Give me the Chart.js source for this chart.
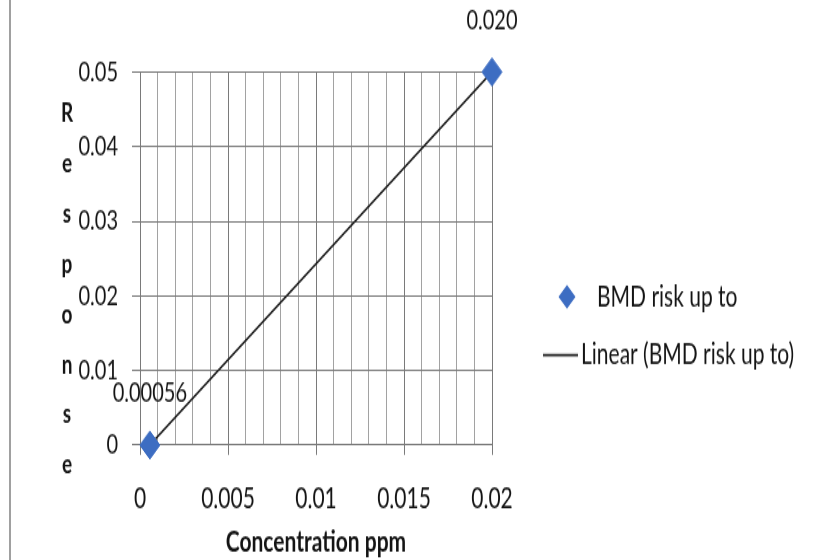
<!DOCTYPE html>
<html>
<head>
<meta charset="utf-8">
<title>Concentration vs Response</title>
<script src="https://cdn.jsdelivr.net/npm/chart.js@4/dist/chart.umd.min.js"></script>
<style>
  html, body { margin: 0; padding: 0; background: #fff; overflow: hidden; }
</style>
</head>
<body>
<!-- the drawing surface is 817x400 and is shown stretched to 817x560 -->
<canvas id="chart" width="817" height="400" style="display:block;width:817px;height:560px"></canvas>
<script>
// Measured points
const concentration = [0.00056, 0.020];
const response = [0, 0.05];
const pointLabels = ['0.00056', '0.020'];

// Axis ticks
const xTickValues = [0, 0.005, 0.01, 0.015, 0.02];
const xTickLabels = ['0', '0.005', '0.01', '0.015', '0.02'];
const yTickValues = [0, 0.01, 0.02, 0.03, 0.04, 0.05];
const yTickLabels = ['0', '0.01', '0.02', '0.03', '0.04', '0.05'];

// Texts
const seriesName = 'BMD risk up to';
const trendName = 'Linear (BMD risk up to)';
const xTitle = 'Concentration ppm';
const yTitle = 'Response';

const FONT = 'Lato, "Open Sans", "DejaVu Sans", sans-serif';
const TEXT = '#141414';
const BLUE = '#3d6dc2';
const GRID_MINOR = '#a2a2a2';
const GRID_MAJOR = '#7a7a7a';

function labelFor(values, labels, v) {
  const i = values.findIndex(t => Math.abs(t - v) < 1e-9);
  return i >= 0 ? labels[i] : '';
}
const isMajorX = v => xTickValues.some(t => Math.abs(t - v) < 1e-9);

const points = concentration.map((x, i) => ({ x, y: response[i] }));
// a linear fit through two points runs through both of them
const trend = concentration.map((x, i) => ({ x, y: response[i] }));

const extras = {
  id: 'extras',
  afterDatasetsDraw(chart) {
    const ctx = chart.ctx;
    const meta = chart.getDatasetMeta(0);
    ctx.save();
    ctx.font = '20px ' + FONT;
    ctx.fillStyle = TEXT;
    ctx.textAlign = 'center';
    ctx.textBaseline = 'middle';
    meta.data.forEach((pt, i) => ctx.fillText(pointLabels[i], pt.x, pt.y - 37));
    ctx.restore();
  },
  afterDraw(chart) {
    const ctx = chart.ctx;
    ctx.save();
    // frame edge on the left
    ctx.strokeStyle = '#a0a0a0';
    ctx.lineWidth = 2;
    ctx.beginPath();
    ctx.moveTo(10, 0);
    ctx.lineTo(10, chart.height);
    ctx.stroke();

    // vertical y-axis title, one letter per line
    ctx.font = 'bold 19px ' + FONT;
    ctx.fillStyle = TEXT;
    ctx.textAlign = 'center';
    ctx.textBaseline = 'alphabetic';
    [...yTitle].forEach((ch, i) => ctx.fillText(ch, 67, 87 + i * 35.9));

    // legend
    const ds = chart.data.datasets;
    ctx.font = '21px ' + FONT;
    ctx.textAlign = 'left';
    ctx.textBaseline = 'middle';
    const y1 = 212, y2 = 253.6, r = 8.5;
    ctx.fillStyle = BLUE;
    ctx.beginPath();
    ctx.moveTo(567, y1 - r);
    ctx.lineTo(567 + r, y1);
    ctx.lineTo(567, y1 + r);
    ctx.lineTo(567 - r, y1);
    ctx.closePath();
    ctx.fill();
    ctx.fillStyle = TEXT;
    ctx.fillText(ds[0].label, 597, y1);
    ctx.strokeStyle = '#1e1e1e';
    ctx.lineWidth = 1.6;
    ctx.beginPath();
    ctx.moveTo(543, y2);
    ctx.lineTo(578, y2);
    ctx.stroke();
    ctx.fillText(ds[1].label, 581, y2);
    ctx.restore();
  }
};

new Chart(document.getElementById('chart'), {
  type: 'scatter',
  data: {
    datasets: [
      {
        label: seriesName,
        data: points,
        pointStyle: 'rectRot',
        pointRadius: 10,
        pointHoverRadius: 10,
        backgroundColor: BLUE,
        borderColor: BLUE,
        borderWidth: 1,
        showLine: false,
        clip: false,
        order: 0
      },
      {
        label: trendName,
        data: trend,
        showLine: true,
        pointRadius: 0,
        borderColor: '#1e1e1e',
        borderWidth: 1.6,
        clip: false,
        order: 1
      }
    ]
  },
  options: {
    responsive: false,
    animation: false,
    events: [],
    layout: { padding: { left: 0, top: 51.4, right: 325, bottom: 0 } },
    plugins: {
      legend: { display: false },
      tooltip: { enabled: false },
      title: { display: false }
    },
    scales: {
      x: {
        type: 'linear',
        min: 0,
        max: 0.02,
        afterBuildTicks(scale) {
          const t = [];
          for (let i = 0; i <= 20; i++) t.push({ value: i / 1000 });
          scale.ticks = t;
        },
        afterFit(scale) { scale.height = 82.1; },
        grid: {
          color: c => (c.tick && isMajorX(c.tick.value)) ? GRID_MAJOR : GRID_MINOR,
          tickColor: c => (c.tick && isMajorX(c.tick.value)) ? GRID_MAJOR : 'rgba(0,0,0,0)',
          tickLength: 7,
          lineWidth: 1
        },
        border: { display: true, color: GRID_MAJOR, width: 1 },
        ticks: {
          autoSkip: false,
          maxRotation: 0,
          padding: 19,
          color: TEXT,
          font: { family: FONT, size: 21 },
          callback: v => labelFor(xTickValues, xTickLabels, v)
        },
        title: {
          display: true,
          text: xTitle,
          color: TEXT,
          font: { family: FONT, size: 21, weight: 'bold' },
          padding: { top: 0, bottom: 0 }
        }
      },
      y: {
        type: 'linear',
        min: 0,
        max: 0.05,
        afterFit(scale) { scale.width = 140; },
        grid: {
          color: GRID_MAJOR,
          tickColor: GRID_MAJOR,
          tickLength: 8,
          lineWidth: 1
        },
        border: { display: true, color: GRID_MAJOR, width: 1 },
        ticks: {
          stepSize: 0.01,
          padding: 14,
          color: TEXT,
          font: { family: FONT, size: 20 },
          callback: v => labelFor(yTickValues, yTickLabels, v)
        }
      }
    }
  },
  plugins: [extras]
});
</script>
</body>
</html>
